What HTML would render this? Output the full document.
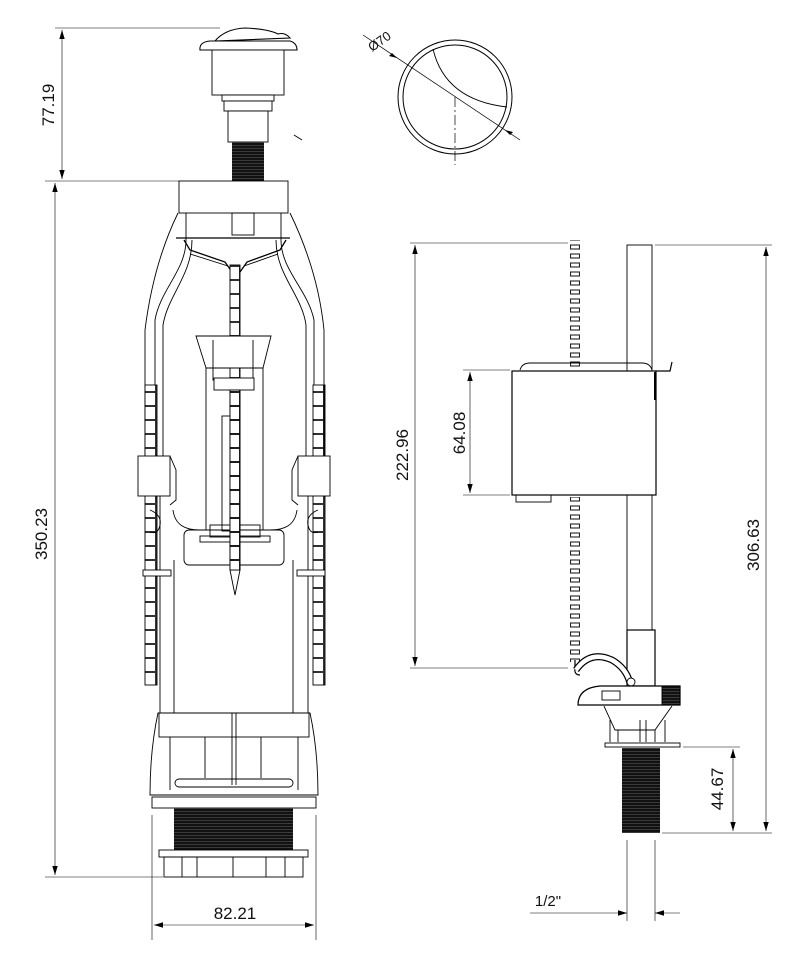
<!DOCTYPE html>
<html><head><meta charset="utf-8"><style>
html,body{margin:0;padding:0;background:#fff;width:808px;height:961px;overflow:hidden}
svg{display:block}
text{font-family:"Liberation Sans",sans-serif;fill:#111}
</style></head><body>
<svg width="808" height="961" viewBox="0 0 808 961" xmlns="http://www.w3.org/2000/svg">
<defs>
<marker id="a" viewBox="0 0 10 10" refX="10" refY="5" markerWidth="9" markerHeight="9" orient="auto-start-reverse" markerUnits="userSpaceOnUse"><path d="M0,2 L10,5 L0,8z" fill="#000"/></marker>
<pattern id="thr" width="6" height="3" patternUnits="userSpaceOnUse"><rect width="6" height="3" fill="#111"/><line x1="0" y1="1.5" x2="6" y2="1.5" stroke="#555" stroke-width="0.6"/></pattern>
<pattern id="rail" width="12" height="14" patternUnits="userSpaceOnUse"><rect x="0.5" y="0.5" width="11" height="13" fill="#fff" stroke="#000" stroke-width="0.8"/></pattern>
<pattern id="bead" width="10" height="9" patternUnits="userSpaceOnUse"><rect x="0.5" y="2" width="9" height="4" fill="#fff" stroke="#222" stroke-width="1.1"/><line x1="5" y1="0" x2="5" y2="9" stroke="#222" stroke-width="0"/></pattern>
</defs>
<g stroke="#000" fill="none" stroke-width="0.9">
<line x1="55" y1="28" x2="220" y2="28" stroke-width="0.6"/>
<line x1="45" y1="181" x2="180" y2="181" stroke-width="0.6"/>
<line x1="62" y1="30" x2="62" y2="179" marker-start="url(#a)" marker-end="url(#a)" stroke-width="0.6"/>
<line x1="55" y1="183" x2="55" y2="875" marker-start="url(#a)" marker-end="url(#a)" stroke-width="0.6"/>
<line x1="45" y1="877" x2="163" y2="877" stroke-width="0.6"/>
<line x1="152" y1="815" x2="152" y2="940" stroke-width="0.6"/>
<line x1="316" y1="815" x2="316" y2="940" stroke-width="0.6"/>
<line x1="154" y1="925" x2="314" y2="925" marker-start="url(#a)" marker-end="url(#a)" stroke-width="0.6"/>

<!-- button -->
<path d="M215,41 Q225,29 245,28 Q268,29 278,34 Q285,32 290,38 Z" fill="#fff" stroke-width="1.1"/>
<path d="M200,50 Q199,42 210,41 L290,41 Q297,43 297,50 Z" fill="#fff" stroke-width="1.1"/>
<rect x="212" y="50" width="72" height="45" fill="#fff"/>
<rect x="222" y="95" width="52" height="6" fill="#fff"/>
<rect x="224" y="101" width="48" height="10" fill="#fff"/>
<rect x="228" y="111" width="40" height="31" fill="#fff"/>
<rect x="232" y="142" width="32" height="39" fill="url(#thr)" stroke="none"/>
<line x1="294" y1="135" x2="302" y2="140"/>
<rect x="179" y="181" width="109" height="32" fill="#fff"/>
<path d="M178,213 C160,250 150,290 145,330 L145,460" />
<path d="M290,213 C308,250 320,290 324,330 L324,460"/>
<path d="M186,213 L186,240 C186,270 160,290 155,320 L155,460"/>
<path d="M281,213 L281,240 C281,270 308,290 314,320 L314,460"/>
<path d="M192,240 C192,275 168,295 163,325 L163,460"/>
<path d="M276,240 C276,275 302,295 306,325 L306,460"/>
<rect x="232" y="213" width="22" height="22"/>
<path d="M176,238 L290,238 M184,240 L190,250 L225,262 L232,272 L240,272 L247,262 L280,250 L286,240" stroke-width="1.3"/>
<path d="M190,254 L228,266 M278,254 L244,266"/>
<rect x="230" y="265" width="10" height="305" fill="url(#rail)"/>
<path d="M230,570 L235,595 L240,570"/>
<path d="M196,336 L271,336 L263,368 L206,368 Z" fill="#fff"/>
<path d="M206,368 L206,530 M263,368 L263,530 M213,340 L213,380 L253,380 L253,340"/>
<rect x="214" y="378" width="40" height="12" fill="#fff"/>
<rect x="222" y="416" width="9" height="115" fill="none"/>
<path d="M173,510 C175,525 185,530 200,530 L270,530 C285,530 295,525 297,510"/>
<rect x="184" y="530" width="100" height="35" rx="5"/>
<rect x="200" y="536" width="70" height="6"/>
<rect x="210" y="525" width="50" height="12"/>
<rect x="230" y="390" width="10" height="180" fill="url(#rail)"/>
<rect x="145" y="385" width="12" height="300" fill="url(#rail)"/>
<rect x="313" y="385" width="12" height="300" fill="url(#rail)"/>
<line x1="160" y1="460" x2="160" y2="713"/>
<line x1="174" y1="560" x2="174" y2="713"/>
<line x1="293" y1="560" x2="293" y2="713"/>
<line x1="308" y1="460" x2="308" y2="713"/>
<rect x="138" y="456" width="32" height="40" fill="#fff"/>
<rect x="298" y="456" width="32" height="40" fill="#fff"/>
<path d="M170,456 L176,470 L176,500 L170,505 M298,456 L292,470 L292,500 L298,505"/>
<path d="M150,510 Q162,515 160,525 Q158,535 150,532 M318,510 Q306,515 308,525 Q310,535 318,532"/>
<rect x="143" y="570" width="28" height="6" fill="#fff"/>
<rect x="297" y="570" width="28" height="6" fill="#fff"/>
<path d="M158,713 L310,713 Q318,750 318,795 L150,795 Q150,750 158,713 Z" fill="#fff"/>
<rect x="159" y="713" width="150" height="24"/>
<line x1="232" y1="713" x2="232" y2="785"/><line x1="236" y1="713" x2="236" y2="785"/>
<line x1="170" y1="737" x2="170" y2="790"/><line x1="205" y1="737" x2="205" y2="778"/>
<line x1="261" y1="737" x2="261" y2="778"/><line x1="298" y1="737" x2="298" y2="790"/>
<rect x="175" y="779" width="118" height="8" rx="4"/>
<rect x="152" y="797" width="164" height="11"/>
<rect x="174" y="808" width="119" height="42" fill="url(#thr)" stroke="none"/>
<rect x="159" y="850" width="149" height="7"/>
<rect x="164" y="857" width="139" height="20"/>
<line x1="182" y1="857" x2="182" y2="877"/><line x1="197" y1="857" x2="197" y2="877"/>
<line x1="233" y1="857" x2="233" y2="877"/><line x1="266" y1="857" x2="266" y2="877"/><line x1="285" y1="857" x2="285" y2="877"/>

<circle cx="455" cy="97" r="57" stroke-width="1"/>
<circle cx="455" cy="97" r="52" stroke-width="1"/>
<path d="M433,49 Q445,100 507,107"/>
<line x1="363" y1="35" x2="520" y2="140" stroke-width="0.7"/>
<path d="M397,58 l-8,-2 l3,-3z M505,130 l8,2 l-3,3z" fill="#000" stroke="none"/>
<line x1="455" y1="97" x2="455" y2="165" stroke-dasharray="10,3,2,3" stroke-width="0.7"/>

<line x1="410" y1="243" x2="568" y2="243" stroke-width="0.6"/>
<line x1="410" y1="668" x2="568" y2="668" stroke-width="0.6"/>
<line x1="415" y1="245" x2="415" y2="666" marker-start="url(#a)" marker-end="url(#a)" stroke-width="0.6"/>
<line x1="463" y1="370" x2="510" y2="370" stroke-width="0.6"/>
<line x1="463" y1="495" x2="510" y2="495" stroke-width="0.6"/>
<line x1="470" y1="372" x2="470" y2="493" marker-start="url(#a)" marker-end="url(#a)" stroke-width="0.6"/>
<line x1="655" y1="245" x2="772" y2="245" stroke-width="0.6"/>
<line x1="662" y1="833" x2="772" y2="833" stroke-width="0.6"/>
<line x1="766" y1="247" x2="766" y2="831" marker-start="url(#a)" marker-end="url(#a)" stroke-width="0.6"/>
<line x1="683" y1="747" x2="740" y2="747" stroke-width="0.6"/>
<line x1="733" y1="749" x2="733" y2="831" marker-start="url(#a)" marker-end="url(#a)" stroke-width="0.6"/>
<line x1="627" y1="840" x2="627" y2="921" stroke-width="0.6"/>
<line x1="655" y1="840" x2="655" y2="921" stroke-width="0.6"/>
<line x1="530" y1="913" x2="627" y2="913" marker-end="url(#a)" stroke-width="0.6"/>
<line x1="680" y1="913" x2="655" y2="913" marker-end="url(#a)" stroke-width="0.6"/>

<rect x="627" y="245" width="25" height="385" fill="#fff"/>
<rect x="570" y="240" width="10" height="128" fill="url(#bead)" stroke="none"/>
<rect x="570" y="497" width="10" height="165" fill="url(#bead)" stroke="none"/>
<path d="M575,660 L575,668 Q574,675 580,675" stroke-width="1.2"/>
<path d="M520,370 Q522,363 530,363 L642,363 Q650,363 652,370"/>
<rect x="512" y="371" width="144" height="124" fill="#fff" stroke-width="1.2"/>
<path d="M655,371 L670,371 L672,362" stroke-width="1.2"/>
<line x1="655" y1="372" x2="655" y2="400" stroke-width="2"/>
<rect x="516" y="495" width="35" height="7"/>
<rect x="627" y="630" width="28" height="56" fill="#fff" stroke-width="1.2"/>
<path d="M576,670 Q590,650 612,660 Q626,668 630,683" stroke-width="7" stroke="#000"/>
<path d="M576,670 Q590,650 612,660 Q626,668 630,683" stroke-width="4.5" stroke="#fff"/>
<circle cx="631" cy="682" r="4" fill="#fff"/>
<path d="M578,705 Q578,688 600,686 L680,686 L680,705 Z" fill="#fff" stroke-width="1.2"/>
<rect x="602" y="691" width="18" height="9"/>
<rect x="662" y="686" width="18" height="19" fill="url(#thr)"/>
<path d="M604,706 L615,730 L655,730 L672,706"/>
<path d="M610,720 L610,742 M665,720 L665,742 M618,730 L618,742 M640,720 L640,742 M646,720 L646,742 M655,730 L655,742"/>
<rect x="605" y="743" width="75" height="4" fill="#fff"/>
<rect x="622" y="748" width="38" height="85" fill="url(#thr)" stroke="none"/>
</g>
<g font-size="17">
<text transform="translate(54,105) rotate(-90)" text-anchor="middle">77.19</text>
<text transform="translate(47,534) rotate(-90)" text-anchor="middle">350.23</text>
<text x="235" y="919" text-anchor="middle">82.21</text>
<text transform="translate(408,455) rotate(-90)" text-anchor="middle">222.96</text>
<text transform="translate(465,433) rotate(-90)" text-anchor="middle">64.08</text>
<text transform="translate(759,545) rotate(-90)" text-anchor="middle">306.63</text>
<text transform="translate(723,789) rotate(-90)" text-anchor="middle">44.67</text>
<text x="548" y="906" font-size="15" text-anchor="middle">1/2"</text>
<text transform="translate(382,45) rotate(-35)" font-size="13" text-anchor="middle">Ø70</text>
</g>
</svg>
</body></html>
